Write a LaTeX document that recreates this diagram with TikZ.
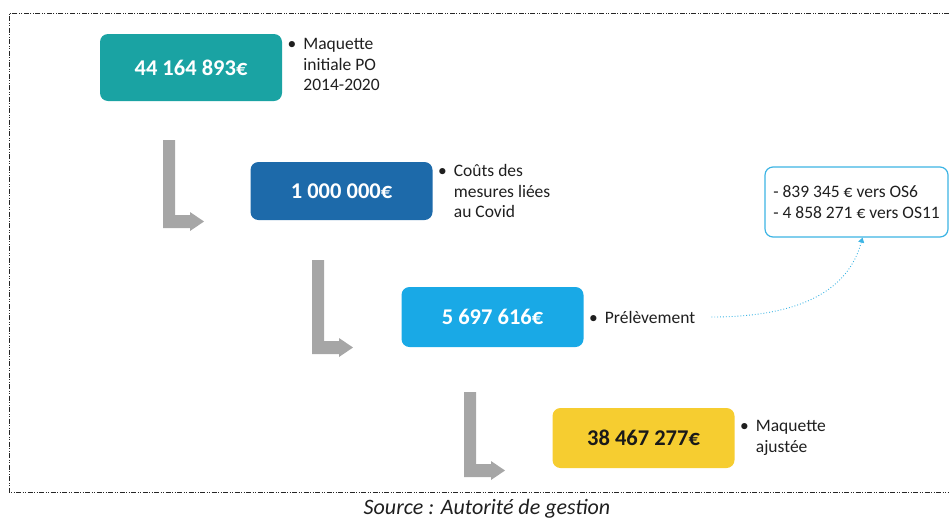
\documentclass[tikz,border=0pt]{standalone}
\usepackage{fontspec}
\setmainfont{Carlito}
\usetikzlibrary{arrows.meta,positioning}

\definecolor{tealbox}{HTML}{1AA3A3}
\definecolor{navybox}{HTML}{1D6AAA}
\definecolor{skybox}{HTML}{19A9E6}
\definecolor{goldbox}{HTML}{F6CD30}
\definecolor{stepgray}{HTML}{A6A6A6}
\definecolor{noteline}{HTML}{3CB4E4}

% bullet hanging left of the first line
\newcommand\dotmark{\llap{\textbullet\hspace{7pt}}}

\begin{document}
\begin{tikzpicture}[x=1pt,y=-1pt,
  amount/.style={rectangle,rounded corners=8pt,minimum width=182pt,minimum height=60pt,
    font=\fontsize{22.5}{27}\selectfont\bfseries,text=white},
  legend/.style={align=left,inner sep=0pt,text=black!88,font=\fontsize{17.5}{20.5}\selectfont}]
\useasboundingbox (0,0) rectangle (949,520);

% outer frame
\draw[line width=0.9pt,black!85,dash pattern=on 5pt off 1.5pt on 1pt off 1.5pt on 1pt off 1.5pt]
  (949,13) -- (9,13) -- (9,492) -- (949,492);

% amounts
\node[amount,fill=tealbox,minimum height=67pt] (total) at (191,67.5) {44 164 893€};
\node[amount,fill=navybox,minimum height=58pt] (covid) at (341.5,191) {1 000 000€};
\node[amount,fill=skybox] (levy) at (492.5,317) {5 697 616€};
\node[amount,fill=goldbox,text=black!90] (adjusted) at (643.5,438) {38 467 277€};

% bullet texts
\node[legend,right=21pt of total,yshift=3pt] (totaltxt) {\dotmark Maquette\\initiale PO\\2014-2020};
\node[legend,right=21pt of covid] (covidtxt) {\dotmark Coûts des\\mesures liées\\au Covid};
\node[legend,right=21pt of levy] (levytxt) {\dotmark Prélèvement};
\node[legend,right=21pt of adjusted] (adjustedtxt) {\dotmark Maquette\\ajustée};

% transfers
\node[draw=noteline,line width=1.2pt,rounded corners=8pt,align=left,minimum width=183pt,
  minimum height=70pt,inner xsep=6pt,text=black!88,font=\fontsize{17.5}{21}\selectfont]
  (split) at (856.5,202) {- 839 345 € vers OS6\\- 4 858 271 € vers OS11};
\draw[noteline,dotted,line width=0.9pt,-{Triangle[length=5pt,width=6pt]}]
  ([xshift=16pt]levytxt.east) to[out=0,in=-105] ([xshift=6pt]split.south);

% grey step arrows
\foreach \x/\t/\b in {163/140/228, 312/260/354, 464/392/477}
  \fill[stepgray] (\x,\t) -- (\x+12,\t) -- (\x+12,\b-13) -- (\x+27,\b-13) -- (\x+27,\b-16)
    -- (\x+41,\b-6.5) -- (\x+27,\b+3) -- (\x+27,\b) -- (\x,\b) -- cycle;

\node[font=\fontsize{22}{25}\selectfont\itshape,text=black!88] (source) at (487,509) {Source : Autorité de gestion};
\end{tikzpicture}
\end{document}
